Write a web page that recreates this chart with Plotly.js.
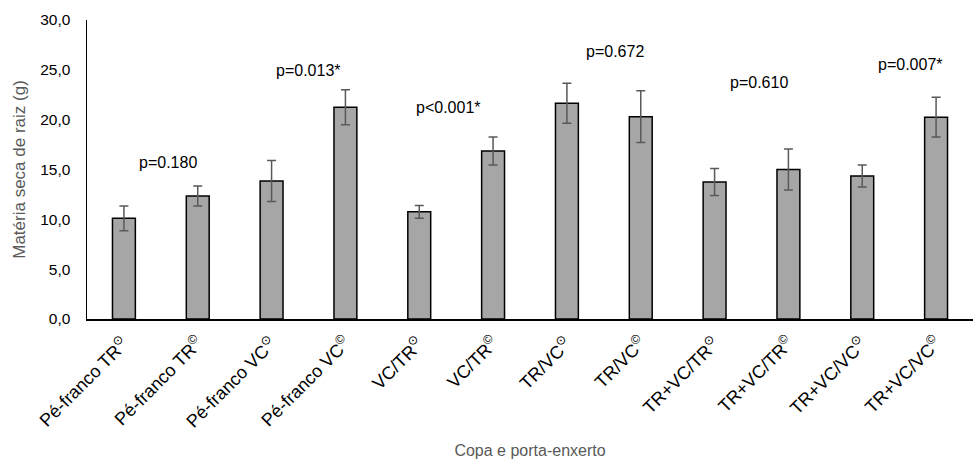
<!DOCTYPE html>
<html>
<head>
<meta charset="utf-8">
<script src="https://cdn.plot.ly/plotly-3.0.1.min.js"></script>
<style>html,body{margin:0;padding:0;background:#fff;}#chart{width:974px;height:464px;}</style>
</head>
<body>
<div id="chart"></div>
<script>
const categories = [
  "Pé-franco TR<sup>⊙</sup>", "Pé-franco TR<sup>©</sup>",
  "Pé-franco VC<sup>⊙</sup>", "Pé-franco VC<sup>©</sup>",
  "VC/TR<sup>⊙</sup>", "VC/TR<sup>©</sup>",
  "TR/VC<sup>⊙</sup>", "TR/VC<sup>©</sup>",
  "TR+VC/TR<sup>⊙</sup>", "TR+VC/TR<sup>©</sup>",
  "TR+VC/VC<sup>⊙</sup>", "TR+VC/VC<sup>©</sup>"
];
const values = [10.1, 12.35, 13.85, 21.25, 10.75, 16.85, 21.65, 20.3, 13.75, 15.0, 14.35, 20.25];
const errors = [1.25, 1.0, 2.05, 1.75, 0.65, 1.4, 2.0, 2.6, 1.35, 2.05, 1.1, 2.0];
const pLabels = ["p=0.180", "p=0.013*", "p<0.001*", "p=0.672", "p=0.610", "p=0.007*"];
const pX = [0.6, 2.5, 4.4, 6.65, 8.6, 10.65];
const pY = [15.75, 24.9, 21.2, 26.8, 23.7, 25.5];

const trace = {
  type: 'bar',
  x: categories,
  y: values,
  marker: {color: '#a6a6a6', line: {color: '#000000', width: 1.5}},
  error_y: {type: 'data', array: errors, visible: true, color: '#595959', thickness: 1.5, width: 4.5},
  hoverinfo: 'none'
};

const annotations = pLabels.map((t, i) => ({
  x: pX[i], y: pY[i], xref: 'x', yref: 'y', text: t, showarrow: false,
  font: {family: 'Liberation Sans, Arial, sans-serif', size: 16, color: '#000000'},
  xanchor: 'center', yanchor: 'middle'
}));

const layout = {
  width: 974, height: 464,
  margin: {l: 87, r: 1, t: 20, b: 145},
  paper_bgcolor: '#ffffff', plot_bgcolor: '#ffffff',
  font: {family: 'Liberation Sans, Arial, sans-serif', color: '#000000'},
  separators: ',.',
  bargap: 0.69,
  showlegend: false,
  xaxis: {
    type: 'category',
    tickangle: -45,
    tickfont: {size: 18, color: '#000000'},
    showline: true, linecolor: '#000000', linewidth: 1.5,
    ticks: '', showgrid: false, zeroline: false,
    ticklabelstandoff: 5,
    title: {text: 'Copa e porta-enxerto', font: {size: 16, color: '#595959'}, standoff: 14}
  },
  yaxis: {
    range: [0, 30], dtick: 5, tickformat: '.1f',
    tickfont: {size: 15.5, color: '#000000'},
    showline: true, linecolor: '#000000', linewidth: 1.5,
    ticks: '', showgrid: false, zeroline: false,
    ticklabelstandoff: 12,
    title: {text: 'Matéria seca de raiz (g)', font: {size: 17, color: '#595959'}, standoff: 10}
  },
  annotations: annotations
};

Plotly.newPlot('chart', [trace], layout, {displayModeBar: false, staticPlot: true});
</script>
</body>
</html>
